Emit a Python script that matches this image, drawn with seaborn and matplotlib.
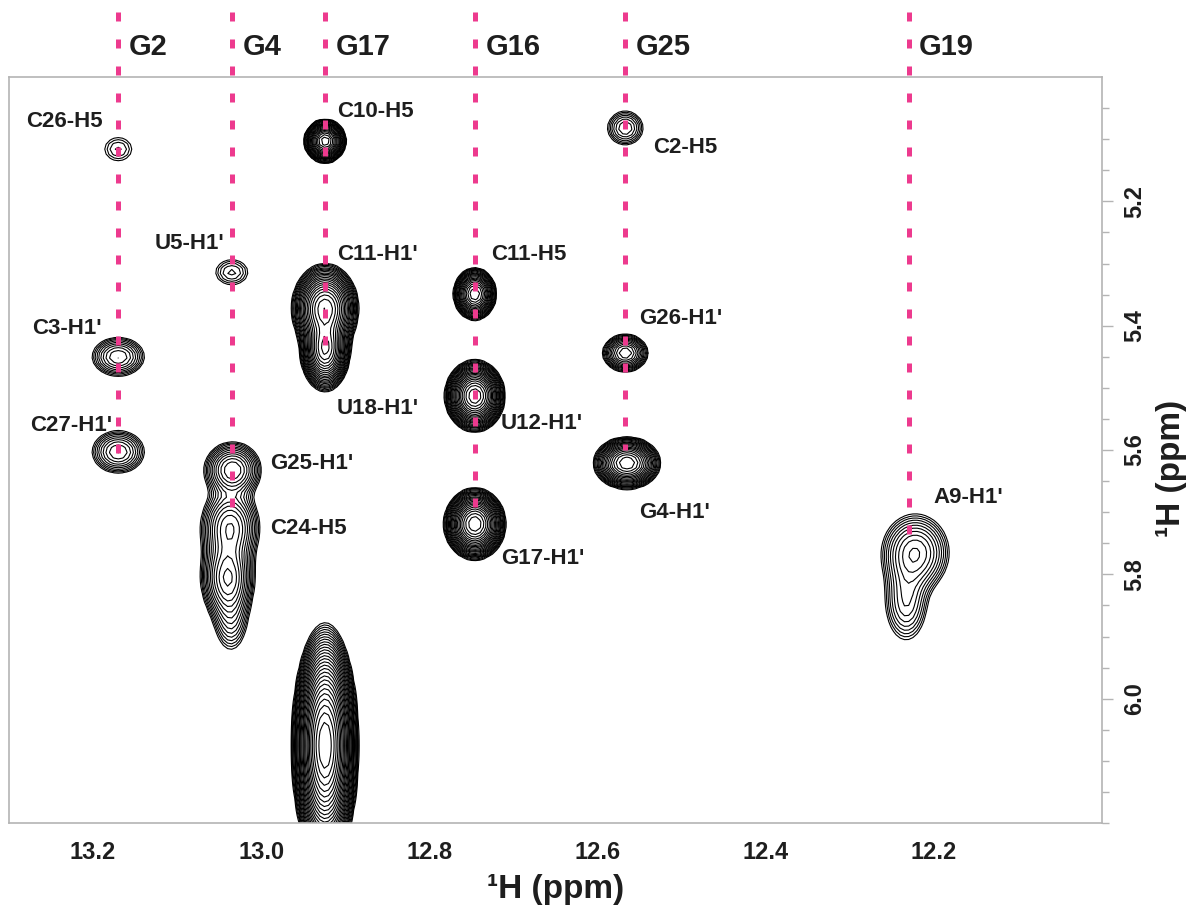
import numpy as np
import matplotlib
matplotlib.use("Agg")
import matplotlib.pyplot as plt
import seaborn as sns

# imino protons used as anchors for the vertical assignment lines
residues = ["G2", "G4", "G17", "G16", "G25", "G19"]
residue_ppm = [13.170, 13.035, 12.924, 12.746, 12.567, 12.230]
line_end_ppm = [5.608, 5.713, 5.445, 5.697, 5.600, 5.764]

# cross peaks: centre, half-width of the lowest
# contour (ppm) and peak height in units of the lowest contour level
peak_x = [13.170, 12.924, 12.567, 13.035, 12.924, 12.924, 12.746, 12.746,
          12.746, 13.170, 12.567, 13.170, 12.565, 13.034, 13.037, 13.040,
          13.036, 12.222, 12.233, 12.924, 12.742]
peak_y = [5.116, 5.103, 5.082, 5.314, 5.372, 5.438, 5.349, 5.513,
          5.719, 5.450, 5.444, 5.603, 5.621, 5.632, 5.724, 5.805,
          5.870, 5.765, 5.845, 6.075, 6.208]
peak_hx = [0.016, 0.025, 0.021, 0.019, 0.040, 0.030, 0.0255, 0.036,
           0.037, 0.031, 0.027, 0.031, 0.040, 0.034, 0.035, 0.032,
           0.018, 0.040, 0.024, 0.040, 0.004]
peak_hy = [0.0185, 0.035, 0.027, 0.020, 0.072, 0.068, 0.042, 0.058,
           0.058, 0.031, 0.030, 0.034, 0.042, 0.045, 0.065, 0.070,
           0.050, 0.062, 0.060, 0.197, 0.008]
peak_h = [1.8, 45.0, 3.6, 2.2, 45.0, 40.0, 32.0, 66.0,
          66.0, 5.2, 10.7, 5.2, 32.0, 8.9, 8.9, 10.7,
          3.0, 6.2, 3.5, 165.0, 1.25]

# peak assignments written next to the peaks (left edge, centre line)
label_text = ["C26-H5", "C10-H5", "C2-H5", "U5-H1'", "C11-H1'", "C11-H5",
              "C3-H1'", "G26-H1'", "U18-H1'", "U12-H1'", "C27-H1'", "G25-H1'",
              "G4-H1'", "C24-H5", "A9-H1'", "G17-H1'"]
label_x = [13.279, 12.910, 12.534, 13.127, 12.910, 12.726,
           13.272, 12.551, 12.910, 12.715, 13.275, 12.989,
           12.550, 12.989, 12.200, 12.715]
label_y = [5.072, 5.056, 5.114, 5.267, 5.286, 5.286,
           5.404, 5.388, 5.533, 5.557, 5.560, 5.621,
           5.700, 5.726, 5.676, 5.774]

x_ticks = [13.2, 13.0, 12.8, 12.6, 12.4, 12.2]
y_ticks = [5.2, 5.4, 5.6, 5.8, 6.0]

sns.set_theme(style="white")
plt.rcParams["font.family"] = ["Liberation Sans", "DejaVu Sans"]

pink = "#ED3A8E"
grey = "#b4b4b4"
ink = "#1e1e1e"

fig = plt.figure(figsize=(11.94, 9.15), dpi=100)
ax = fig.add_axes([0.0075, 0.1005, 0.9155, 0.8153])

# coarse, spectrometer-like grid; each peak is a gaussian whose lowest
# contour sits at its measured footprint
gx = np.arange(11.99, 13.31, 0.005)
gy = np.arange(4.98, 6.26, 0.008)
X, Y = np.meshgrid(gx, gy)
Z = np.zeros_like(X)
for px, py, hx, hy, h in zip(peak_x, peak_y, peak_hx, peak_hy, peak_h):
    r2 = ((X - px) / hx) ** 2 + ((Y - py) / hy) ** 2
    Z += h ** (1.0 - r2)

levels = 1.2 ** np.arange(40)
ax.contour(X, Y, Z, levels=levels, colors="black", linewidths=0.8, zorder=2)

for name, xp, yend in zip(residues, residue_ppm, line_end_ppm):
    ax.plot([xp, xp], [4.895, yend], color=pink, lw=3.6,
            linestyle=(0, (1.8, 3.6)), clip_on=False, zorder=5,
            solid_capstyle="butt", dash_capstyle="butt")
    ax.text(xp - 0.0125, 4.952, name, fontsize=21, fontweight="bold",
            color=ink, ha="left", va="center", clip_on=False)

for t, xl, yl in zip(label_text, label_x, label_y):
    ax.text(xl, yl, t, fontsize=16, fontweight="bold", color=ink,
            ha="left", va="center", zorder=6)

ax.set_xlim(13.3, 12.0)
ax.set_ylim(6.2, 5.0)

ax.set_xticks(x_ticks, [f"{v:.1f}" for v in x_ticks])
ax.set_xticks(np.arange(12.05, 13.31, 0.05), minor=True)
ax.set_yticks(y_ticks, [f"{v:.1f}" for v in y_ticks], rotation=90, va="center")
ax.set_yticks(np.arange(5.05, 6.2, 0.05), minor=True)
ax.yaxis.tick_right()

for lab in ax.get_xticklabels() + ax.get_yticklabels():
    lab.set_fontweight("bold")
    lab.set_fontsize(17)
    lab.set_color(ink)

ax.tick_params(axis="both", which="major", direction="out", length=8,
               width=1.0, color=grey, pad=5)
ax.tick_params(axis="both", which="minor", direction="out", length=5,
               width=1.0, color=grey)
ax.tick_params(axis="y", which="both", left=False, right=True)
ax.tick_params(axis="y", which="major", pad=7)

for sp in ax.spines.values():
    sp.set_color(grey)
    sp.set_linewidth(1.2)

ax.set_xlabel("\u00b9H (ppm)", fontsize=24, fontweight="bold", color=ink)
ax.xaxis.set_label_coords(0.5, -0.068)
ax.yaxis.set_label_position("right")
ax.set_ylabel("\u00b9H (ppm)", fontsize=24, fontweight="bold", color=ink,
              rotation=90)
ax.yaxis.set_label_coords(1.049, 0.476)

fig.savefig("out.png", dpi=100)
